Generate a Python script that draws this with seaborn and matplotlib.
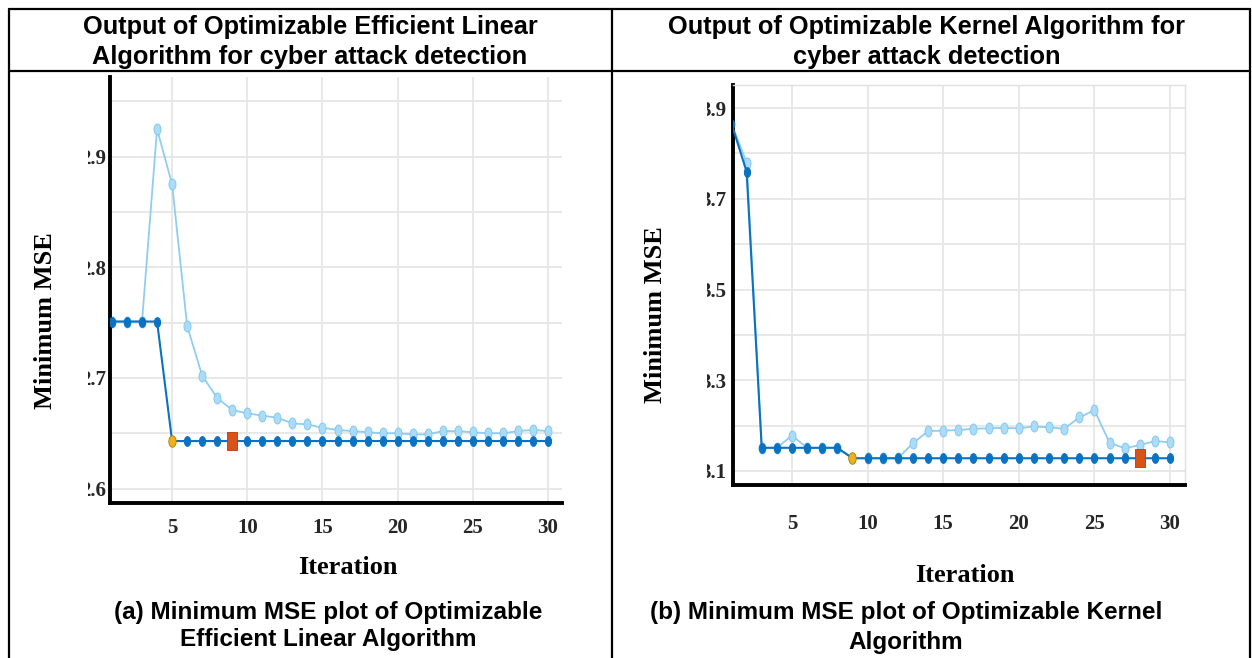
import numpy as np
import matplotlib
matplotlib.use("Agg")
import matplotlib.pyplot as plt
from matplotlib.lines import Line2D
from matplotlib.markers import MarkerStyle
from matplotlib.transforms import Bbox, TransformedBbox
import seaborn as sns

# ---- data ----
iterations = list(range(1, 31))

linear_min_observed = [2.751, 2.751, 2.751, 2.751, 2.643, 2.643, 2.643, 2.643, 2.643, 2.643,
                       2.643, 2.643, 2.643, 2.643, 2.643, 2.643, 2.643, 2.643, 2.643, 2.643,
                       2.643, 2.643, 2.643, 2.643, 2.643, 2.643, 2.643, 2.643, 2.643, 2.643]
linear_min_estimated = [2.751, 2.751, 2.751, 2.925, 2.875, 2.747, 2.702, 2.682, 2.671, 2.668,
                        2.666, 2.664, 2.659, 2.658, 2.655, 2.653, 2.652, 2.651, 2.650, 2.650,
                        2.649, 2.649, 2.652, 2.652, 2.651, 2.650, 2.650, 2.652, 2.653, 2.652]
linear_best_iter = 5
linear_minerr_iter = 9

kernel_min_observed = [3.866, 3.760, 3.151, 3.151, 3.151, 3.151, 3.151, 3.151, 3.128, 3.128,
                       3.128, 3.128, 3.128, 3.128, 3.128, 3.128, 3.128, 3.128, 3.128, 3.128,
                       3.128, 3.128, 3.128, 3.128, 3.128, 3.128, 3.128, 3.128, 3.128, 3.128]
kernel_min_estimated = [3.866, 3.780, 3.151, 3.151, 3.178, 3.151, 3.151, 3.151, 3.128, 3.128,
                        3.128, 3.128, 3.161, 3.188, 3.189, 3.190, 3.193, 3.194, 3.195, 3.194,
                        3.198, 3.196, 3.193, 3.218, 3.234, 3.162, 3.150, 3.157, 3.166, 3.163]
kernel_best_iter = 9
kernel_minerr_iter = 28

x_ticks = [5, 10, 15, 20, 25, 30]
linear_yticks = [2.6, 2.7, 2.8, 2.9]
linear_yticklabels = ["2.6", "2.7", "2.8", "2.9"]
linear_yminor = [2.65, 2.75, 2.85, 2.95]
kernel_yticks = [3.1, 3.3, 3.5, 3.7, 3.9]
kernel_yticklabels = ["3.1", "3.3", "3.5", "3.7", "3.9"]
kernel_yminor = [3.2, 3.4, 3.6, 3.8]

headers = ["Output of Optimizable Efficient Linear\nAlgorithm for cyber attack detection",
           "Output of Optimizable Kernel Algorithm for\ncyber attack detection"]
captions = ["(a) Minimum MSE plot of Optimizable\nEfficient Linear Algorithm",
            "(b) Minimum MSE plot of Optimizable Kernel\nAlgorithm"]

sns.set_style("white")
plt.rcParams["font.family"] = ["Liberation Serif", "DejaVu Serif"]
plt.rcParams["text.color"] = "black"
plt.rcParams["axes.labelcolor"] = "black"

DARK = "#0a72c2"
LIGHT_LINE = "#8fcdf1"
LIGHT_FACE = "#aadcf7"
LIGHT_EDGE = "#7fc4ec"
GOLD = "#edb120"
RED = "#d95319"

W, H = 1252, 658
fig = plt.figure(figsize=(W / 100, H / 100), dpi=100)


def px_axes(x0, y0, x1, y1):
    return fig.add_axes([x0 / W, 1 - y1 / H, (x1 - x0) / W, (y1 - y0) / H])


# tall, narrow markers like the squeezed screenshot
t = np.linspace(0, 2 * np.pi, 25)
oval = MarkerStyle(list(zip(0.32 * np.cos(t), 0.5 * np.sin(t))))
tall_square = MarkerStyle([(-0.3, -0.5), (0.3, -0.5), (0.3, 0.5), (-0.3, 0.5), (-0.3, -0.5)])


def draw_panel(ax, observed, estimated, best_iter, minerr_iter, xlim, ylim,
               yticks, yticklabels, yminor, clip_x, ypad, xpad, ylabel_xy, xlabel_xy, frame):
    sns.lineplot(x=iterations, y=estimated, ax=ax, color=LIGHT_LINE, linewidth=1.3,
                 marker=oval, markersize=8, markerfacecolor=LIGHT_FACE,
                 markeredgecolor=LIGHT_EDGE, markeredgewidth=0.6, zorder=2)
    sns.lineplot(x=iterations, y=observed, ax=ax, color=DARK, linewidth=1.5,
                 marker=oval, markersize=7, markerfacecolor=DARK,
                 markeredgecolor=DARK, zorder=3)
    sns.scatterplot(x=[best_iter], y=[observed[best_iter - 1]], ax=ax, marker=oval, s=70,
                    color=GOLD, edgecolor="#b88400", linewidth=0.6, zorder=4)
    sns.scatterplot(x=[minerr_iter], y=[observed[minerr_iter - 1]], ax=ax, marker=tall_square,
                    s=150, color=RED, edgecolor="#b23c0c", linewidth=0.6, zorder=4)

    ax.set_xlim(*xlim)
    ax.set_ylim(*ylim)
    ax.set_xticks(x_ticks)
    ax.set_xticklabels([str(v) for v in x_ticks])
    ax.set_yticks(yticks)
    ax.set_yticklabels(yticklabels)
    ax.set_yticks(yminor, minor=True)
    ax.grid(True, which="both", color="#e6e6e6", linewidth=1.3)
    ax.set_axisbelow(True)
    ax.tick_params(axis="both", which="both", length=0, labelsize=15)
    ax.tick_params(axis="y", pad=ypad)
    ax.tick_params(axis="x", pad=xpad)
    for lbl in ax.get_xticklabels() + ax.get_yticklabels():
        lbl.set_fontweight("bold")
        lbl.set_color("#262626")

    for side in ("left", "bottom"):
        ax.spines[side].set_color("black")
        ax.spines[side].set_linewidth(2.8)
    for side in ("top", "right"):
        ax.spines[side].set_visible(frame)
        ax.spines[side].set_color("#e0e0e0")
        ax.spines[side].set_linewidth(1.0)

    ax.set_xlabel("Iteration", fontsize=19, fontweight="bold")
    ax.set_ylabel("Minimum MSE", fontsize=19, fontweight="bold")
    ax.xaxis.label.set_va("center")
    ax.yaxis.label.set_va("center")
    ax.xaxis.set_label_coords(*xlabel_xy)
    ax.yaxis.set_label_coords(*ylabel_xy)

    # the pasted screenshot cuts off the first digit of each y tick label
    clip = TransformedBbox(Bbox.from_extents(clip_x / W, 0, 1, 1), fig.transFigure)
    for tick in ax.yaxis.get_major_ticks():
        tick.label1.set_clip_on(True)
        tick.label1.set_clip_box(clip)


ax_lin = px_axes(110, 77, 562, 503)
draw_panel(ax_lin, linear_min_observed, linear_min_estimated, linear_best_iter, linear_minerr_iter,
           (0.87, 30.93), (2.587, 2.972), linear_yticks, linear_yticklabels, linear_yminor,
           clip_x=88, ypad=3, xpad=11,
           ylabel_xy=((46 - 110) / 452, (503 - 321) / 426),
           xlabel_xy=((348 - 110) / 452, (503 - 567) / 426), frame=False)

ax_ker = px_axes(733, 85, 1185, 485)
draw_panel(ax_ker, kernel_min_observed, kernel_min_estimated, kernel_best_iter, kernel_minerr_iter,
           (1.1, 30.99), (3.069, 3.951), kernel_yticks, kernel_yticklabels, kernel_yminor,
           clip_x=707, ypad=5, xpad=21,
           ylabel_xy=((656 - 733) / 452, (485 - 315) / 400),
           xlabel_xy=((965 - 733) / 452, (485 - 575) / 400), frame=True)

# ---- table frame around the two cells ----
def hline(y, x0, x1, lw=1.6):
    fig.add_artist(Line2D([x0 / W, x1 / W], [1 - y / H, 1 - y / H], color="black", linewidth=lw))


def vline(x, y0, y1, lw=1.6):
    fig.add_artist(Line2D([x / W, x / W], [1 - y0 / H, 1 - y1 / H], color="black", linewidth=lw))


hline(9, 9, 1250)
hline(71, 9, 1250)
vline(9, 9, 658)
vline(612, 9, 658)
vline(1250, 9, 658)

text_font = ["Liberation Sans", "DejaVu Sans"]
fig.text(310 / W, 1 - 42 / H, headers[0], ha="center", va="center", fontsize=18.3,
         fontweight="bold", family=text_font, linespacing=1.3)
fig.text(927 / W, 1 - 42 / H, headers[1], ha="center", va="center", fontsize=18.3,
         fontweight="bold", family=text_font, linespacing=1.3)
fig.text(328 / W, 1 - 626 / H, captions[0], ha="center", va="center", fontsize=17.5,
         fontweight="bold", family=text_font, linespacing=1.25)
fig.text(906 / W, 1 - 627.5 / H, captions[1], ha="center", va="center", fontsize=17.5,
         fontweight="bold", family=text_font, linespacing=1.37)

fig.savefig("out.png", dpi=100, facecolor="white")
